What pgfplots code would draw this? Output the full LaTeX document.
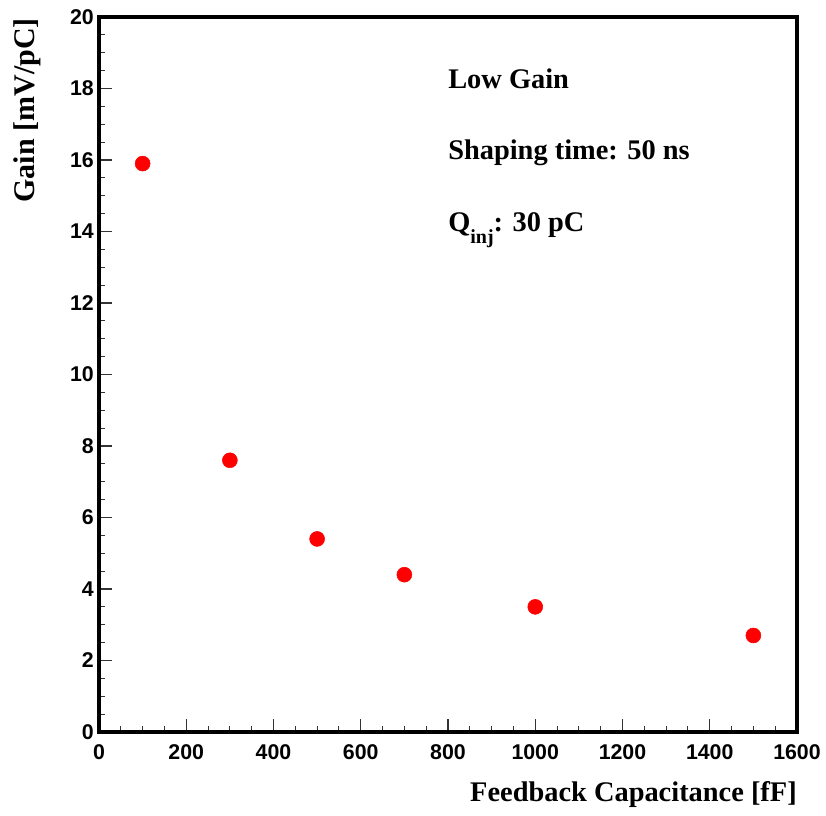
\documentclass[border=0pt]{standalone}
\usepackage{pgfplots}
\pgfplotsset{compat=1.18}
\usepackage{fontspec}
\setmainfont{Liberation Serif}
\newfontfamily\tickfont{Liberation Sans}
\begin{document}
\begin{tikzpicture}
\useasboundingbox (-74.25pt,-63pt) rectangle (545.25pt,549pt);
\begin{axis}[
  at={(0pt,0pt)}, anchor=south west,
  scale only axis, width=523.5pt, height=536.25pt,
  xmin=0, xmax=1600, ymin=0, ymax=20,
  xtick={0,200,...,1600}, ytick={0,2,...,20},
  minor x tick num=3, minor y tick num=3,
  tick pos=left, tick align=inside,
  major tick length=9.75pt, minor tick length=4.75pt,
  every tick/.style={line width=0.8pt, black!80},
  axis line style={line width=2.4pt},
  /pgf/number format/assume math mode=true,
  /pgf/number format/1000 sep={},
  ticklabel style={font=\tickfont\bfseries\fontsize{16}{16}\selectfont},
  xticklabel style={anchor=north, inner sep=0pt, yshift=-9.5pt},
  yticklabel style={anchor=east, inner sep=0pt, xshift=-3.75pt},
  xlabel={Feedback Capacitance [fF]},
  ylabel={Gain [mV/pC]},
  xlabel style={at={(axis description cs:1,-0.0979)}, anchor=base east, inner sep=0pt, font=\bfseries\fontsize{21.3}{21.3}\selectfont},
  ylabel style={at={(axis description cs:-0.0917,0.9986)}, rotate=0, anchor=base east, inner sep=0pt, font=\bfseries\fontsize{22.5}{22.5}\selectfont},
  clip=false,
]
\addplot[only marks, mark=*, mark size=5.6pt, color=red, mark options={fill=red, draw=red}]
coordinates {(100,15.9) (300,7.6) (500,5.4) (700,4.4) (1000,3.5) (1500,2.7)};
\node[anchor=base west, inner sep=0pt, font=\bfseries\fontsize{21.3}{21.3}\selectfont] at (axis cs:800,18) {Low Gain};
\node[anchor=base west, inner sep=0pt, font=\bfseries\fontsize{21.3}{21.3}\selectfont] at (axis cs:800,16) {Shaping time: 50 ns};
\node[anchor=base west, inner sep=0pt, font=\bfseries\fontsize{21.3}{21.3}\selectfont] at (axis cs:800,14) {Q\raisebox{-9pt}{\fontsize{15}{15}\selectfont inj}: 30 pC};
\end{axis}
\end{tikzpicture}
\end{document}
